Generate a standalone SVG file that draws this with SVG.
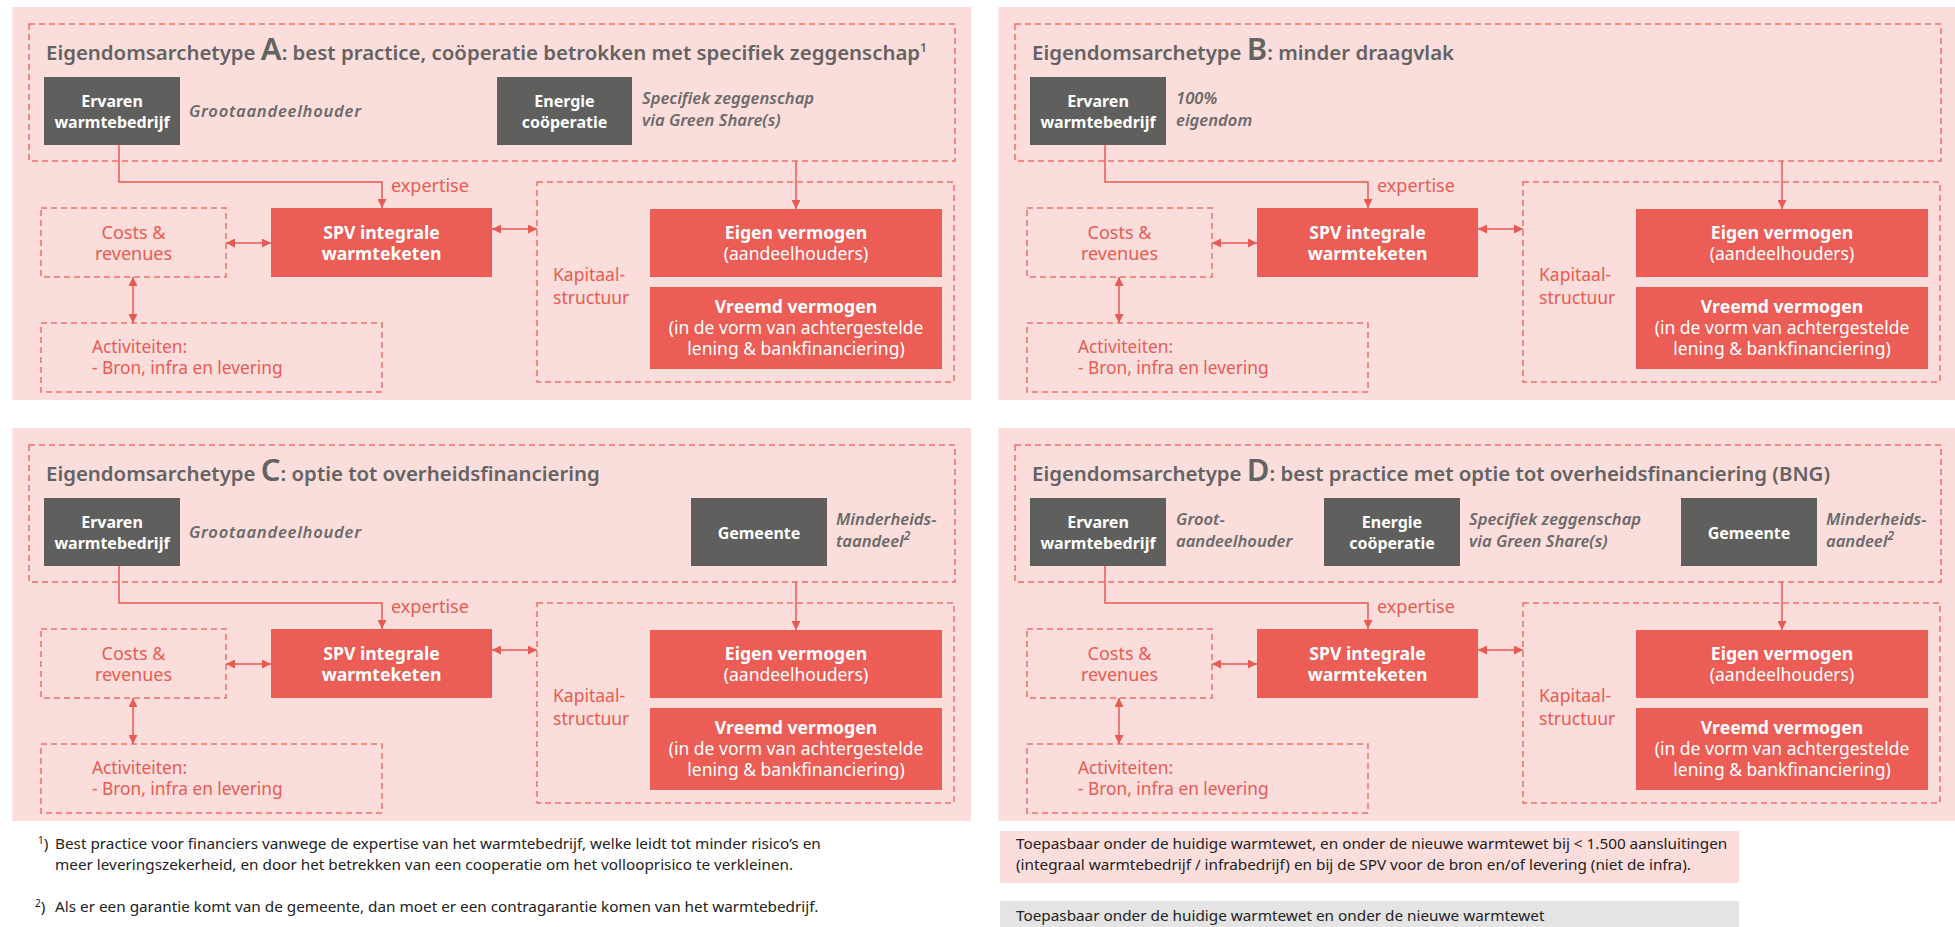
<svg xmlns="http://www.w3.org/2000/svg" width="1955" height="927" viewBox="0 0 1955 927">
  <defs>
    <marker id="ah" viewBox="0 0 10 10" refX="10" refY="5" markerWidth="9" markerHeight="9" markerUnits="userSpaceOnUse" orient="auto-start-reverse">
      <path d="M0,0 L10,5 L0,10 Z" fill="#e85a52"/>
    </marker>
    <style>
      text { font-family: "Noto Sans", "Open Sans", "Liberation Sans", sans-serif; }
      .bg { fill: #fbdddb; }
      .dash { fill: none; stroke: #ef6f69; stroke-width: 1.5; stroke-dasharray: 6 4; }
      .gray { fill: #5f5f5d; }
      .red { fill: #ec5d56; }
      .title { font-size: 20.4px; font-weight: 600; fill: #636363; }
      .big { font-size: 31px; }
      .sup { font-size: 12px; }
      .wb { font-size: 16px; font-weight: 700; fill: #ffffff; text-anchor: middle; }
      .rb { font-size: 17.6px; font-weight: 700; fill: #ffffff; text-anchor: middle; }
      .rn { font-size: 17.5px; font-weight: 400; fill: #ffffff; text-anchor: middle; }
      .it { font-size: 16.6px; font-style: italic; font-weight: 600; fill: #6a6a6a; }
      .rt { font-size: 17.5px; fill: #e95b53; }
      .act { font-size: 17.3px; fill: #e95b53; }
      .rtc { font-size: 18px; fill: #e95b53; text-anchor: middle; }
      .exp { font-size: 18px; fill: #e95b53; }
      .link { fill: none; stroke: #e85a52; stroke-width: 1.5; }
      .note { font-size: 15.3px; fill: #222222; }
    </style>
  </defs>

  <!-- ===== Archetype A ===== -->
  <g id="panel-a">
    <rect class="bg" x="12.5" y="7" width="958.5" height="393"/>
    <rect class="dash" x="29" y="24" width="926" height="137"/>
    <text class="title" x="46" y="59.5">Eigendomsarchetype <tspan class="big">A</tspan>: best practice, coöperatie betrokken met specifiek zeggenschap<tspan class="sup" dy="-8">1</tspan></text>
    <g id="a-ervaren">
      <rect class="gray" x="44" y="77" width="136" height="68"/>
      <text class="wb" x="112" y="107">Ervaren</text>
      <text class="wb" x="112" y="128">warmtebedrijf</text>
      <text class="it" x="189" y="117" textLength="172">Grootaandeelhouder</text>
    </g>
    <g id="a-energie">
      <rect class="gray" x="497" y="77" width="135" height="68"/>
      <text class="wb" x="564.5" y="107">Energie</text>
      <text class="wb" x="564.5" y="128">coöperatie</text>
      <text class="it" x="642" y="104">Specifiek zeggenschap</text>
      <text class="it" x="642" y="126">via Green Share(s)</text>
    </g>
    <g id="a-costs">
      <rect class="dash" x="41" y="208" width="185" height="69"/>
      <text class="rtc" x="133.5" y="239">Costs &amp;</text>
      <text class="rtc" x="133.5" y="260">revenues</text>
    </g>
    <g id="a-spv">
      <rect class="red" x="271" y="208" width="221" height="69"/>
      <text class="rb" x="381.5" y="239">SPV integrale</text>
      <text class="rb" x="381.5" y="260">warmteketen</text>
    </g>
    <g id="a-kapitaal">
      <rect class="dash" x="537" y="182" width="417" height="200"/>
      <text class="rt" x="553" y="281">Kapitaal-</text>
      <text class="rt" x="553" y="304">structuur</text>
    </g>
    <g id="a-eigen">
      <rect class="red" x="650" y="209" width="292" height="68"/>
      <text class="rb" x="796" y="239">Eigen vermogen</text>
      <text class="rn" x="796" y="260">(aandeelhouders)</text>
    </g>
    <g id="a-vreemd">
      <rect class="red" x="650" y="287" width="292" height="82"/>
      <text class="rb" x="796" y="313">Vreemd vermogen</text>
      <text class="rn" x="796" y="334">(in de vorm van achtergestelde</text>
      <text class="rn" x="796" y="355">lening &amp; bankfinanciering)</text>
    </g>
    <g id="a-activiteiten">
      <rect class="dash" x="41" y="323" width="341" height="69"/>
      <text class="act" x="92" y="353">Activiteiten:</text>
      <text class="act" x="92" y="374">- Bron, infra en levering</text>
    </g>
    <g id="a-connectors">
      <path class="link" d="M119,145 V182 H382 V208" marker-end="url(#ah)"/>
      <text class="exp" x="391" y="192">expertise</text>
      <path class="link" d="M796,161 V209" marker-end="url(#ah)"/>
      <path class="link" d="M226,243 H271" marker-start="url(#ah)" marker-end="url(#ah)"/>
      <path class="link" d="M492,229 H537" marker-start="url(#ah)" marker-end="url(#ah)"/>
      <path class="link" d="M133,277 V323" marker-start="url(#ah)" marker-end="url(#ah)"/>
    </g>
  </g>

  <!-- ===== Archetype B ===== -->
  <g id="panel-b" transform="translate(986,0)">
    <rect class="bg" x="12.5" y="7" width="958.5" height="393"/>
    <rect class="dash" x="29" y="24" width="926" height="137"/>
    <text class="title" x="46" y="59.5">Eigendomsarchetype <tspan class="big">B</tspan>: minder draagvlak</text>
    <g id="b-ervaren">
      <rect class="gray" x="44" y="77" width="136" height="68"/>
      <text class="wb" x="112" y="107">Ervaren</text>
      <text class="wb" x="112" y="128">warmtebedrijf</text>
      <text class="it" x="190" y="104">100%</text>
      <text class="it" x="190" y="126">eigendom</text>
    </g>
    <g id="b-costs">
      <rect class="dash" x="41" y="208" width="185" height="69"/>
      <text class="rtc" x="133.5" y="239">Costs &amp;</text>
      <text class="rtc" x="133.5" y="260">revenues</text>
    </g>
    <g id="b-spv">
      <rect class="red" x="271" y="208" width="221" height="69"/>
      <text class="rb" x="381.5" y="239">SPV integrale</text>
      <text class="rb" x="381.5" y="260">warmteketen</text>
    </g>
    <g id="b-kapitaal">
      <rect class="dash" x="537" y="182" width="417" height="200"/>
      <text class="rt" x="553" y="281">Kapitaal-</text>
      <text class="rt" x="553" y="304">structuur</text>
    </g>
    <g id="b-eigen">
      <rect class="red" x="650" y="209" width="292" height="68"/>
      <text class="rb" x="796" y="239">Eigen vermogen</text>
      <text class="rn" x="796" y="260">(aandeelhouders)</text>
    </g>
    <g id="b-vreemd">
      <rect class="red" x="650" y="287" width="292" height="82"/>
      <text class="rb" x="796" y="313">Vreemd vermogen</text>
      <text class="rn" x="796" y="334">(in de vorm van achtergestelde</text>
      <text class="rn" x="796" y="355">lening &amp; bankfinanciering)</text>
    </g>
    <g id="b-activiteiten">
      <rect class="dash" x="41" y="323" width="341" height="69"/>
      <text class="act" x="92" y="353">Activiteiten:</text>
      <text class="act" x="92" y="374">- Bron, infra en levering</text>
    </g>
    <g id="b-connectors">
      <path class="link" d="M119,145 V182 H382 V208" marker-end="url(#ah)"/>
      <text class="exp" x="391" y="192">expertise</text>
      <path class="link" d="M796,161 V209" marker-end="url(#ah)"/>
      <path class="link" d="M226,243 H271" marker-start="url(#ah)" marker-end="url(#ah)"/>
      <path class="link" d="M492,229 H537" marker-start="url(#ah)" marker-end="url(#ah)"/>
      <path class="link" d="M133,277 V323" marker-start="url(#ah)" marker-end="url(#ah)"/>
    </g>
  </g>

  <!-- ===== Archetype C ===== -->
  <g id="panel-c" transform="translate(0,421)">
    <rect class="bg" x="12.5" y="7" width="958.5" height="393"/>
    <rect class="dash" x="29" y="24" width="926" height="137"/>
    <text class="title" x="46" y="59.5">Eigendomsarchetype <tspan class="big">C</tspan>: optie tot overheidsfinanciering</text>
    <g id="c-ervaren">
      <rect class="gray" x="44" y="77" width="136" height="68"/>
      <text class="wb" x="112" y="107">Ervaren</text>
      <text class="wb" x="112" y="128">warmtebedrijf</text>
      <text class="it" x="189" y="117" textLength="172">Grootaandeelhouder</text>
    </g>
    <g id="c-gemeente">
      <rect class="gray" x="691" y="77" width="136" height="68"/>
      <text class="wb" x="759" y="118">Gemeente</text>
      <text class="it" x="836" y="104">Minderheids-</text>
      <text class="it" x="836" y="126">taandeel<tspan class="sup" dy="-7">2</tspan></text>
    </g>
    <g id="c-costs">
      <rect class="dash" x="41" y="208" width="185" height="69"/>
      <text class="rtc" x="133.5" y="239">Costs &amp;</text>
      <text class="rtc" x="133.5" y="260">revenues</text>
    </g>
    <g id="c-spv">
      <rect class="red" x="271" y="208" width="221" height="69"/>
      <text class="rb" x="381.5" y="239">SPV integrale</text>
      <text class="rb" x="381.5" y="260">warmteketen</text>
    </g>
    <g id="c-kapitaal">
      <rect class="dash" x="537" y="182" width="417" height="200"/>
      <text class="rt" x="553" y="281">Kapitaal-</text>
      <text class="rt" x="553" y="304">structuur</text>
    </g>
    <g id="c-eigen">
      <rect class="red" x="650" y="209" width="292" height="68"/>
      <text class="rb" x="796" y="239">Eigen vermogen</text>
      <text class="rn" x="796" y="260">(aandeelhouders)</text>
    </g>
    <g id="c-vreemd">
      <rect class="red" x="650" y="287" width="292" height="82"/>
      <text class="rb" x="796" y="313">Vreemd vermogen</text>
      <text class="rn" x="796" y="334">(in de vorm van achtergestelde</text>
      <text class="rn" x="796" y="355">lening &amp; bankfinanciering)</text>
    </g>
    <g id="c-activiteiten">
      <rect class="dash" x="41" y="323" width="341" height="69"/>
      <text class="act" x="92" y="353">Activiteiten:</text>
      <text class="act" x="92" y="374">- Bron, infra en levering</text>
    </g>
    <g id="c-connectors">
      <path class="link" d="M119,145 V182 H382 V208" marker-end="url(#ah)"/>
      <text class="exp" x="391" y="192">expertise</text>
      <path class="link" d="M796,161 V209" marker-end="url(#ah)"/>
      <path class="link" d="M226,243 H271" marker-start="url(#ah)" marker-end="url(#ah)"/>
      <path class="link" d="M492,229 H537" marker-start="url(#ah)" marker-end="url(#ah)"/>
      <path class="link" d="M133,277 V323" marker-start="url(#ah)" marker-end="url(#ah)"/>
    </g>
  </g>

  <!-- ===== Archetype D ===== -->
  <g id="panel-d" transform="translate(986,421)">
    <rect class="bg" x="12.5" y="7" width="958.5" height="393"/>
    <rect class="dash" x="29" y="24" width="926" height="137"/>
    <text class="title" x="46" y="59.5">Eigendomsarchetype <tspan class="big">D</tspan>: best practice met optie tot overheidsfinanciering (BNG)</text>
    <g id="d-ervaren">
      <rect class="gray" x="44" y="77" width="136" height="68"/>
      <text class="wb" x="112" y="107">Ervaren</text>
      <text class="wb" x="112" y="128">warmtebedrijf</text>
      <text class="it" x="190" y="104">Groot-</text>
      <text class="it" x="190" y="126">aandeelhouder</text>
    </g>
    <g id="d-energie">
      <rect class="gray" x="338" y="77" width="136" height="68"/>
      <text class="wb" x="406" y="107">Energie</text>
      <text class="wb" x="406" y="128">coöperatie</text>
      <text class="it" x="483" y="104">Specifiek zeggenschap</text>
      <text class="it" x="483" y="126">via Green Share(s)</text>
    </g>
    <g id="d-gemeente">
      <rect class="gray" x="695" y="77" width="136" height="68"/>
      <text class="wb" x="763" y="118">Gemeente</text>
      <text class="it" x="840" y="104">Minderheids-</text>
      <text class="it" x="840" y="126">aandeel<tspan class="sup" dy="-7">2</tspan></text>
    </g>
    <g id="d-costs">
      <rect class="dash" x="41" y="208" width="185" height="69"/>
      <text class="rtc" x="133.5" y="239">Costs &amp;</text>
      <text class="rtc" x="133.5" y="260">revenues</text>
    </g>
    <g id="d-spv">
      <rect class="red" x="271" y="208" width="221" height="69"/>
      <text class="rb" x="381.5" y="239">SPV integrale</text>
      <text class="rb" x="381.5" y="260">warmteketen</text>
    </g>
    <g id="d-kapitaal">
      <rect class="dash" x="537" y="182" width="417" height="200"/>
      <text class="rt" x="553" y="281">Kapitaal-</text>
      <text class="rt" x="553" y="304">structuur</text>
    </g>
    <g id="d-eigen">
      <rect class="red" x="650" y="209" width="292" height="68"/>
      <text class="rb" x="796" y="239">Eigen vermogen</text>
      <text class="rn" x="796" y="260">(aandeelhouders)</text>
    </g>
    <g id="d-vreemd">
      <rect class="red" x="650" y="287" width="292" height="82"/>
      <text class="rb" x="796" y="313">Vreemd vermogen</text>
      <text class="rn" x="796" y="334">(in de vorm van achtergestelde</text>
      <text class="rn" x="796" y="355">lening &amp; bankfinanciering)</text>
    </g>
    <g id="d-activiteiten">
      <rect class="dash" x="41" y="323" width="341" height="69"/>
      <text class="act" x="92" y="353">Activiteiten:</text>
      <text class="act" x="92" y="374">- Bron, infra en levering</text>
    </g>
    <g id="d-connectors">
      <path class="link" d="M119,145 V182 H382 V208" marker-end="url(#ah)"/>
      <text class="exp" x="391" y="192">expertise</text>
      <path class="link" d="M796,161 V209" marker-end="url(#ah)"/>
      <path class="link" d="M226,243 H271" marker-start="url(#ah)" marker-end="url(#ah)"/>
      <path class="link" d="M492,229 H537" marker-start="url(#ah)" marker-end="url(#ah)"/>
      <path class="link" d="M133,277 V323" marker-start="url(#ah)" marker-end="url(#ah)"/>
    </g>
  </g>

  <!-- ===== Footnotes and legend ===== -->
  <g id="footnotes">
    <text class="note" x="38" y="849"><tspan font-size="10" dy="-5">1</tspan><tspan dy="5">)</tspan></text>
    <text class="note" x="55" y="849">Best practice voor financiers vanwege de expertise van het warmtebedrijf, welke leidt tot minder risico’s en</text>
    <text class="note" x="55" y="870">meer leveringszekerheid, en door het betrekken van een cooperatie om het vollooprisico te verkleinen.</text>
    <text class="note" x="35" y="912"><tspan font-size="10" dy="-5">2</tspan><tspan dy="5">)</tspan></text>
    <text class="note" x="55" y="912">Als er een garantie komt van de gemeente, dan moet er een contragarantie komen van het warmtebedrijf.</text>
  </g>
  <g id="legend">
    <rect x="1000" y="831" width="739" height="52" fill="#fbdddb"/>
    <text class="note" x="1016" y="849">Toepasbaar onder de huidige warmtewet, en onder de nieuwe warmtewet bij &lt; 1.500 aansluitingen</text>
    <text class="note" x="1016" y="870">(integraal warmtebedrijf / infrabedrijf) en bij de SPV voor de bron en/of levering (niet de infra).</text>
    <rect x="1000" y="901" width="739" height="26" fill="#e4e4e4"/>
    <text class="note" x="1016" y="921">Toepasbaar onder de huidige warmtewet en onder de nieuwe warmtewet</text>
  </g>
</svg>
